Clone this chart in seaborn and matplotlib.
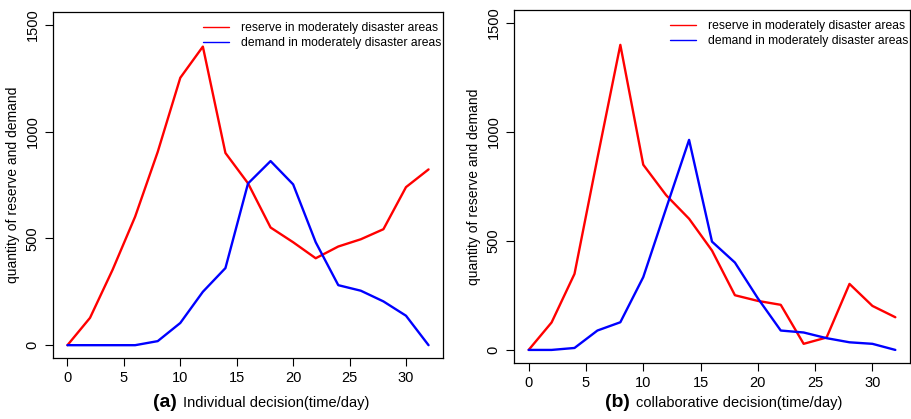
import matplotlib
matplotlib.use("Agg")
import matplotlib.pyplot as plt
import seaborn as sns
import pandas as pd

days = [0, 2, 4, 6, 8, 10, 12, 14, 16, 18, 20, 22, 24, 26, 28, 30, 32]

reserve_a = [0, 128, 353, 602, 905, 1252, 1398, 900, 758, 551, 482, 407, 462, 496, 543, 740, 823]
demand_a = [0, 0, 0, 0, 19, 104, 250, 361, 757, 862, 753, 482, 281, 255, 205, 138, 0]

reserve_b = [0, 126, 349, 880, 1400, 850, 710, 602, 456, 251, 225, 207, 28, 57, 303, 202, 150]
demand_b = [0, 0, 9, 89, 127, 334, 650, 964, 497, 401, 237, 89, 80, 54, 35, 28, 0]

series_names = ["reserve in moderately disaster areas", "demand in moderately disaster areas"]
panel_labels = ["(a)", "(b)"]
xlabels = ["Individual decision(time/day)", "collaborative decision(time/day)"]
ylabel = "quantity of reserve and demand"
xticks = [0, 5, 10, 15, 20, 25, 30]
yticks = [0, 500, 1000, 1500]

sns.set_style("ticks")
plt.rcParams["font.family"] = ["Liberation Sans", "DejaVu Sans"]
plt.rcParams["text.color"] = "black"
plt.rcParams["axes.labelcolor"] = "black"
plt.rcParams["xtick.color"] = "black"
plt.rcParams["ytick.color"] = "black"

fig = plt.figure(figsize=(9.12, 4.19), dpi=100)
positions = [
    [53 / 912, (419 - 358) / 419, 390 / 912, 346 / 419],
    [514 / 912, (419 - 363) / 419, 396 / 912, 353 / 419],
]
label_x = [(177 / 912, 183 / 912), (630 / 912, 636 / 912)]
ylabel_x = [13 / 912, 474 / 912]

data_sets = [(reserve_a, demand_a), (reserve_b, demand_b)]

for i, (res, dem) in enumerate(data_sets):
    ax = fig.add_axes(positions[i])
    df = pd.DataFrame({
        "day": days * 2,
        "value": res + dem,
        "series": [series_names[0]] * len(days) + [series_names[1]] * len(days),
    })
    sns.lineplot(data=df, x="day", y="value", hue="series",
                 palette=["#ff0000", "#0000ff"], linewidth=1.7, ax=ax)
    ax.set_xlim(-1.28, 33.28)
    ax.set_ylim(-60, 1560)
    ax.set_xticks(xticks)
    ax.set_yticks(yticks)
    ax.set_xticklabels([str(t) for t in xticks], fontsize=10.5, color="black")
    ax.set_yticklabels([str(t) for t in yticks], fontsize=10.5, rotation=90,
                       va="center", color="black")
    ax.tick_params(axis="both", direction="out", length=5.5, width=0.8,
                   color="black", pad=4)
    for sp in ax.spines.values():
        sp.set_visible(True)
        sp.set_color("black")
        sp.set_linewidth(0.9)
    ax.set_xlabel("")
    ax.set_ylabel("")
    fig.text(ylabel_x[i], positions[i][1] + positions[i][3] / 2, ylabel,
             rotation=90, ha="center", va="center", fontsize=10, color="black")
    ax_w_px = positions[i][2] * 912
    leg = ax.legend(loc="upper right", frameon=False, fontsize=8.7,
                    handlelength=2.2, handletextpad=1.0, labelspacing=0.25,
                    borderaxespad=0.75, borderpad=0.1, title=None,
                    bbox_to_anchor=(1.0 + 9 / ax_w_px, 1.0))
    for h in leg.get_lines():
        h.set_linewidth(1.0)
    for t in leg.get_texts():
        t.set_color("black")
    fig.text(label_x[i][0], 12 / 419, panel_labels[i], ha="right", va="baseline",
             fontsize=14, fontweight="bold", color="black")
    fig.text(label_x[i][1], 12 / 419, xlabels[i], ha="left", va="baseline",
             fontsize=10.5, color="black")

fig.savefig("out.png", dpi=100, facecolor="white")
